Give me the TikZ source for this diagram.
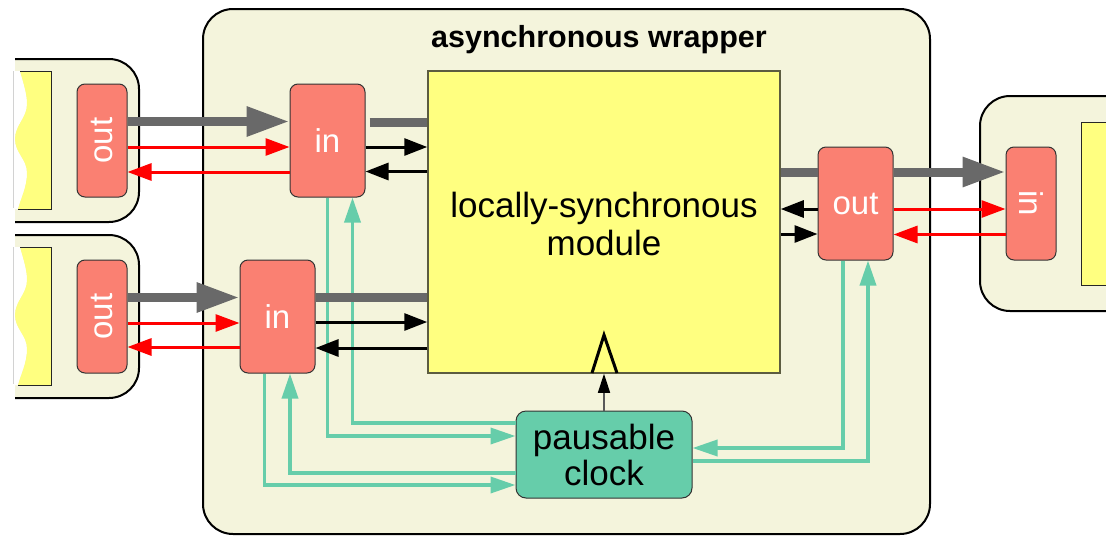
\documentclass[tikz,border=0pt]{standalone}
\usepackage{fontspec}
\setmainfont{Liberation Sans}
\usetikzlibrary{arrows.meta}
\definecolor{wrapbg}{HTML}{F4F4DC}
\definecolor{modfill}{HTML}{FFFF80}
\definecolor{portfill}{HTML}{FA8072}
\definecolor{clkfill}{HTML}{66CDAA}
\definecolor{datagray}{HTML}{696969}
\definecolor{modedge}{HTML}{5C5C40}
\begin{document}
\begin{tikzpicture}[x=1pt,y=-1pt,
  port/.style={draw=black!80, line width=1pt, fill=portfill, rounded corners=8pt,
    inner sep=0pt, minimum width=75pt, minimum height=113pt, text=white,
    font=\fontsize{33}{36}\selectfont},
  slimport/.style={port, minimum width=50pt},
  module/.style={draw=modedge, line width=1.5pt, fill=modfill, inner sep=0pt,
    minimum width=352pt, minimum height=302pt, align=center,
    font=\fontsize{35}{38}\selectfont},
  clockbox/.style={draw=black!80, line width=1pt, fill=clkfill, rounded corners=10pt,
    inner sep=0pt, minimum width=176pt, minimum height=87pt, align=center,
    font=\fontsize{35}{36}\selectfont},
  frame/.style={draw=black, line width=2pt, fill=wrapbg, rounded corners=30pt},
  dataline/.style={draw=datagray, line width=9pt},
  datatip/.style={-{Triangle[length=43pt,width=28pt]}},
  handshake/.style={draw=red, line width=3pt, -{Triangle[length=24pt,width=17pt]}},
  ctrl/.style={draw=black, line width=3pt, -{Triangle[length=23pt,width=17pt]}},
  clkline/.style={draw=clkfill, line width=3.5pt},
  clktip/.style={-{Triangle[length=25pt,width=16pt]}}
]
\useasboundingbox (0,0) rectangle (1106,536);

% wrapper frame
\draw[frame] (203,9) rectangle (930,534);
\node[font=\bfseries\fontsize{30.5}{36}\selectfont] (title) at (599,39.5) {asynchronous wrapper};

% torn-off neighbour modules on the left
\foreach \dy in {0,176}{
  \begin{scope}[yshift=-\dy pt]
    \draw[frame] (15,59) -- (139,59) -- (139,222) -- (15,222);
    \fill[white] (12,71) -- (20,71) .. controls (24,85) and (27,94) .. (27,104)
      .. controls (27,118) and (15,125) .. (15,139)
      .. controls (15,153) and (27,159) .. (27,173)
      .. controls (27,187) and (21,198) .. (18,209) -- (12,209) -- cycle;
    \fill[modfill] (20,71) .. controls (24,85) and (27,94) .. (27,104)
      .. controls (27,118) and (15,125) .. (15,139)
      .. controls (15,153) and (27,159) .. (27,173)
      .. controls (27,187) and (21,198) .. (18,209) -- (51,209) -- (51,71) -- cycle;
    \draw[line width=1pt, black!85] (20,71) -- (51,71) -- (51,209) -- (18,209);
    \draw[gray!35, line width=0.8pt] (13.5,71) -- (13.5,208);
  \end{scope}
}

% neighbour module on the right
\draw[frame] (1115,96) -- (980,96) -- (980,311) -- (1115,311);
\draw[line width=1pt, black!85, fill=modfill] (1081,122) rectangle (1115,285);

% ports, module and clock
\node[slimport] (outA) at (102,140.5) {\rotatebox{90}{out}};
\node[slimport] (outB) at (102,316.5) {\rotatebox{90}{out}};
\node[port] (inA) at (327.5,140.5) {in};
\node[port] (inB) at (277.5,316.5) {in};
\node[port] (outC) at (855.5,203.5) {out};
\node[slimport] (inD) at (1031,203.5) {\rotatebox{-90}{in}};
\node[module] (mod) at (604,222) {};
\node[align=center, font=\fontsize{35}{38}\selectfont] (modtext) at (604,224) {locally-synchronous\\module};
\node[clockbox] (clk) at (604,454.5) {pausable\\clock};

% clock request / acknowledge lines
\draw[clkline, clktip] (inA.south) |- (clk.west |- 0,436);
\draw[clkline, clktip] (clk.west |- 0,423) -| ([xshift=25pt]inA.south);
\draw[clkline, clktip] ([xshift=-13pt]inB.south) |- (clk.west |- 0,485);
\draw[clkline, clktip] (clk.west |- 0,473) -| ([xshift=12.5pt]inB.south);
\draw[clkline, clktip] ([xshift=-12.5pt]outC.south) |- (clk.east |- 0,448);
\draw[clkline, clktip] (clk.east |- 0,461) -| ([xshift=12.5pt]outC.south);

% data paths
\draw[dataline, datatip] (outA.east |- 0,121.5) -- (inA.west |- 0,121.5);
\draw[dataline, shorten <=4pt] (inA.east |- 0,122.5) -- (mod.west |- 0,122.5);
\draw[dataline, datatip] (outB.east |- 0,297.5) -- (inB.west |- 0,297.5);
\draw[dataline] (inB.east |- 0,297) -- (mod.west |- 0,297);
\draw[dataline] (mod.east |- 0,172) -- (outC.west |- 0,172);
\draw[dataline, datatip] (outC.east |- 0,172) -- (inD.west |- 0,172);

% handshake between wrappers
\draw[handshake] (outA.east |- 0,147) -- (inA.west |- 0,147);
\draw[handshake] (inA.west |- 0,172) -- (outA.east |- 0,172);
\draw[handshake] (outB.east |- 0,323) -- (inB.west |- 0,323);
\draw[handshake] (inB.west |- 0,347) -- (outB.east |- 0,347);
\draw[handshake] (outC.east |- 0,209) -- (inD.west |- 0,209);
\draw[handshake] (inD.west |- 0,234.5) -- (outC.east |- 0,234.5);

% port control signals
\draw[ctrl] (inA.east |- 0,147) -- (mod.west |- 0,147);
\draw[ctrl] (mod.west |- 0,171.5) -- (inA.east |- 0,171.5);
\draw[ctrl] (inB.east |- 0,322) -- (mod.west |- 0,322);
\draw[ctrl] (mod.west |- 0,348) -- (inB.east |- 0,348);
\draw[ctrl] (outC.west |- 0,209) -- (mod.east |- 0,209);
\draw[ctrl] (mod.east |- 0,234) -- (outC.west |- 0,234);

% clock input of the module
\draw[line width=1.5pt, draw=black!65, -{Triangle[length=19pt,width=12pt,color=black]}] (clk.north) -- (mod.south);
\draw[line width=3pt, line join=miter] (592,373) -- (604,335) -- (617,373);
\end{tikzpicture}
\end{document}
